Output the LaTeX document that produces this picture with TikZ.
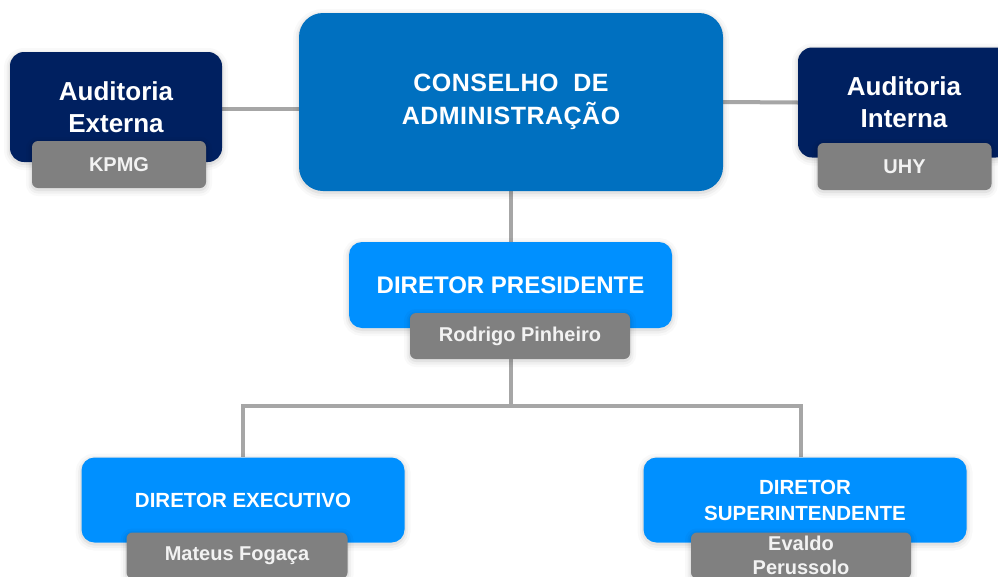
\documentclass[tikz,border=0pt]{standalone}
\usepackage{fontspec}
\setmainfont{Liberation Sans}
\usetikzlibrary{backgrounds}
\definecolor{navy}{HTML}{002060}
\definecolor{cblue}{HTML}{0070C0}
\definecolor{bblue}{HTML}{0090FF}
\definecolor{gbox}{HTML}{808080}
\definecolor{lgray}{HTML}{A6A6A6}
\pgfdeclarelayer{bottom}
\pgfsetlayers{bottom,background,main}
\begin{document}
\begin{tikzpicture}[x=1pt,y=-1pt,
  softshadow/.style={
    preaction={draw=black, draw opacity=0.025, line width=12pt, transform canvas={yshift=-2pt}},
    preaction={draw=black, draw opacity=0.035, line width=7pt, transform canvas={yshift=-2pt}},
    preaction={draw=black, draw opacity=0.05, line width=3pt, transform canvas={yshift=-1.5pt}}},
  base/.style={draw=none, text=white, align=center, inner sep=0pt, softshadow},
  audbox/.style={base, fill=navy, rounded corners=14pt, minimum width=212pt, minimum height=110pt,
    font=\bfseries\fontsize{26}{32}\selectfont},
  consbox/.style={base, fill=cblue, rounded corners=24pt, minimum width=424pt, minimum height=178pt,
    font=\bfseries\fontsize{25}{33}\selectfont\addfontfeature{LetterSpace=2}},
  presbox/.style={base, fill=bblue, rounded corners=13pt, minimum width=323pt, minimum height=86pt,
    font=\bfseries\fontsize{24}{28}\selectfont},
  dirbox/.style={base, fill=bblue, rounded corners=13pt, minimum width=323pt, minimum height=85pt,
    font=\bfseries\fontsize{20.5}{26}\selectfont},
  namebox/.style={base, fill=gbox, rounded corners=6pt, minimum width=220pt, minimum height=46pt,
    text=white!95!black, font=\bfseries\fontsize{20}{24.5}\selectfont},
  audname/.style={namebox, minimum width=174pt, minimum height=47pt},
  link/.style={draw=lgray, line width=4pt}
]
\useasboundingbox (0,0) rectangle (998,576);
\clip (0,0) rectangle (998,576);
\begin{pgfonlayer}{bottom}
  \fill[white] (0,0) rectangle (998,576);
\end{pgfonlayer}

% top row
\node[audbox] (ext) at (116,107) {Auditoria\\Externa};
\node[audname] (kpmg) at (119,164.5) {KPMG};
\node[consbox] (cons) at (511,102) {\raisebox{-2pt}{CONSELHO\ \ DE}\\\raisebox{-2pt}{ADMINISTRAÇÃO}};
\node[audbox] (int) at (904,102.5) {Auditoria\\Interna};
\node[audname] (uhy) at (904.5,166.5) {UHY};

% president
\node[presbox] (pres) at (510.5,285) {DIRETOR PRESIDENTE};
\node[namebox] (rod) at (520,336) {Rodrigo Pinheiro};

% directors
\node[dirbox] (exe) at (243,500) {DIRETOR EXECUTIVO};
\node[namebox, minimum width=221pt] (mat) at (237,555.5) {Mateus Fogaça};
\node[dirbox] (sup) at (805,500) {DIRETOR\\SUPERINTENDENTE};
\node[namebox] (eva) at (801,555.5) {Evaldo\\Perussolo};

\coordinate (j) at (511,406);
\coordinate (jr) at (801,406);

\begin{pgfonlayer}{background}
  \draw[link] ([yshift=-2pt]ext.east) -- ([yshift=-2pt]ext.east -| cons.west);
  \draw[link] (cons.east) -- (int.west);
  \draw[link] (cons.south) -- (cons.south |- pres.north);
  \draw[link] (cons.south |- pres.center) -- (j);
  \draw[link] (j) -| (exe.north);
  \draw[link] (j) -- (jr) -- (jr |- sup.north);
\end{pgfonlayer}
\end{tikzpicture}
\end{document}
